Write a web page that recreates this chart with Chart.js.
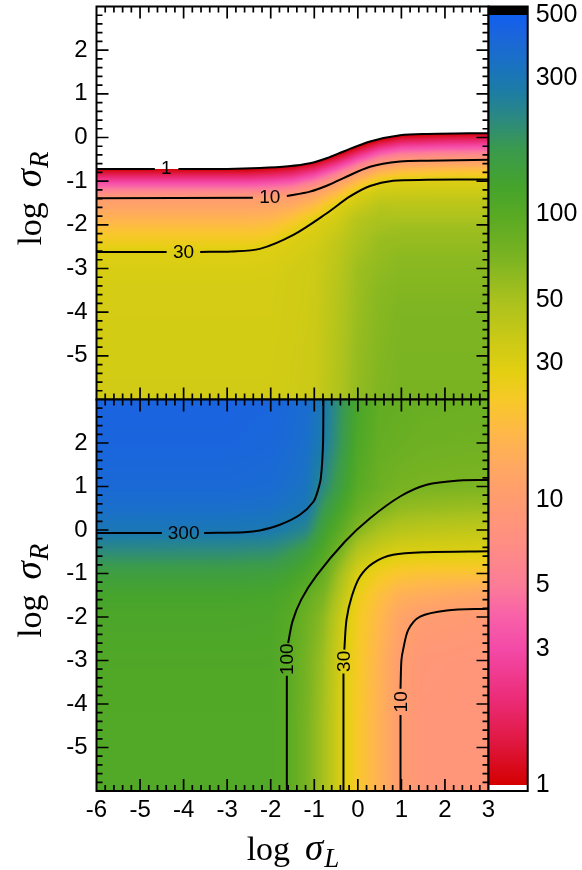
<!DOCTYPE html>
<html>
<head>
<meta charset="utf-8">
<script src="https://cdn.jsdelivr.net/npm/chart.js@4.4.1/dist/chart.umd.min.js"></script>
<style>
  html, body { margin: 0; padding: 0; background: #fff; }
  #wrap { position: relative; width: 582px; height: 870px; }
  #wrap canvas { position: absolute; left: 0; top: 0; }
</style>
</head>
<body>
<div id="wrap">
  <canvas id="top" width="582" height="870"></canvas>
  <canvas id="bottom" width="582" height="870"></canvas>
  <canvas id="bar" width="582" height="870"></canvas>
</div>
<script>
const FONT = '"Liberation Sans", Arial, Helvetica, sans-serif';
const SERIF = '"Liberation Serif", "Times New Roman", Times, serif';

// colour scale (value -> colour), ticks of the colour bar
const CMAP_VALUES = [1, 1.4, 2, 3, 4, 5, 7, 10, 13, 17, 22, 28, 36, 50, 70, 100, 125, 170, 215, 275, 350, 440, 500];
const CMAP_COLORS = ["#d40000", "#e01840", "#ec2c78", "#f44aa8", "#f964a8", "#fc7c98", "#ff8e84", "#ff9c70",
    "#ffa862", "#ffb84a", "#f8c82a", "#e4d012", "#ccca16", "#aac21e", "#7cb422", "#58aa24", "#46a42c",
    "#3a9a4e", "#2c8a80", "#1c7ca8", "#1a70c8", "#1a64e0", "#1060f0"];
const BAR_TICKS = [1, 3, 5, 10, 30, 50, 100, 300, 500];

// upper panel: values read down each column (log sigma_L); rows are log sigma_R
const TOP_COLS = [-6, -2.5, -2, -1.5, -1, -0.5, 0, 0.5, 1, 2, 3];
const TOP_ROWS = [
    [3, -0.42, -0.72, -1.05, -1.39, -2.0, -2.62, -3.4, -6],
    [3, -0.42, -0.72, -1.05, -1.39, -2.0, -2.61, -3.4, -6],
    [3, -0.39, -0.69, -1.03, -1.37, -1.95, -2.52, -3.3, -6],
    [3, -0.35, -0.65, -0.99, -1.33, -1.77, -2.24, -3.0, -6],
    [3, -0.26, -0.56, -0.88, -1.2, -1.56, -1.92, -2.7, -6],
    [3, -0.1, -0.4, -0.7, -1.01, -1.3, -1.58, -2.4, -3.5, -6],
    [3, 0.1, -0.2, -0.5, -0.8, -1.03, -1.27, -1.9, -3.0, -6],
    [3, 0.26, -0.04, -0.33, -0.63, -0.84, -1.05, -1.6, -2.3, -3.5, -6],
    [3, 0.35, 0.05, -0.25, -0.55, -0.77, -0.99, -1.5, -2.1, -2.8, -4, -6],
    [3, 0.39, 0.09, -0.22, -0.52, -0.74, -0.97, -1.5, -2.1, -2.8, -4, -6],
    [3, 0.4, 0.1, -0.21, -0.51, -0.73, -0.96, -1.5, -2.1, -2.8, -4, -6],
];
const TOP_VALS = [
    [0.3, 0.3, 1, 3.2, 10, 18, 30, 33, 34],
    [0.3, 0.3, 1, 3.2, 10, 18, 30, 33, 34],
    [0.3, 0.3, 1, 3.2, 10, 18, 30, 33, 34],
    [0.3, 0.3, 1, 3.2, 10, 18, 30, 34, 35],
    [0.3, 0.3, 1, 3.2, 10, 18, 30, 35, 37],
    [0.3, 0.3, 1, 3.2, 10, 18, 30, 40, 44, 46],
    [0.3, 0.3, 1, 3.2, 10, 18, 30, 45, 55, 60],
    [0.3, 0.3, 1, 3.2, 10, 18, 30, 45, 56, 64, 68],
    [0.3, 0.3, 1, 3.2, 10, 18, 30, 42, 55, 63, 69, 72],
    [0.3, 0.3, 1, 3.2, 10, 18, 30, 42, 55, 63, 69, 72],
    [0.3, 0.3, 1, 3.2, 10, 18, 30, 42, 55, 63, 69, 72],
];

// lower panel: regular grid
const BOT_COLS = [-6, -3, -2, -1.63, -1.2, -0.8, -0.33, 0, 0.5, 0.98, 1.5, 3];
const BOT_ROWS = [3, 2, 1, 0.5, 0, -0.5, -1, -1.5, -2, -3, -4.5, -6];
const BOT_VALS = [
    [440, 430, 400, 360, 305, 210, 150, 125, 116, 110, 108, 108],
    [440, 430, 400, 358, 302, 208, 150, 125, 116, 110, 108, 108],
    [430, 415, 385, 345, 292, 200, 145, 122, 114, 110, 108, 108],
    [410, 395, 360, 325, 265, 180, 135, 112, 104, 100, 100, 100],
    [380, 360, 330, 305, 230, 150, 115, 92, 82, 76, 74, 74],
    [300, 280, 220, 175, 140, 110, 88, 72, 62, 55, 52, 52],
    [175, 165, 140, 115, 90, 66, 48, 40, 34, 30, 30, 30],
    [120, 112, 100, 85, 65, 45, 31.5, 26, 24, 23, 22, 22],
    [92, 88, 82, 70, 50, 35, 24, 19, 17, 15.5, 15, 15],
    [88, 84, 74, 60, 44, 31, 21, 15, 12, 10.2, 10, 10],
    [85, 80, 72, 58, 42, 31, 20, 14, 9.9, 8.8, 8.6, 8.6],
    [82, 78, 70, 55, 40, 30, 20, 12, 9.2, 8.5, 8.5, 8.5],
];

// contour lines, split where the level label sits
const TOP_CONTOURS = [
    [[-6, -0.72], [-4.66, -0.72]],
    [[-4.12, -0.72], [-3, -0.72], [-2.25, -0.7], [-1.6, -0.66], [-1.1, -0.59], [-0.7, -0.47], [-0.33, -0.32],
     [0.28, -0.09], [0.97, 0.05], [1.58, 0.08], [3, 0.1]],
    [[-6, -1.39], [-2.41, -1.38]],
    [[-1.63, -1.34], [-1.1, -1.24], [-0.7, -1.1], [-0.33, -0.93], [0.28, -0.67], [0.97, -0.55], [1.59, -0.53], [3, -0.51]],
    [[-6, -2.62], [-4.39, -2.62]],
    [[-3.62, -2.62], [-2.9, -2.61], [-2.25, -2.55], [-1.48, -2.23], [-0.72, -1.74], [-0.18, -1.35], [0.28, -1.11],
     [0.81, -0.99], [1.58, -0.97], [3, -0.96]],
];
const BOT_CONTOURS = [
    [[-6, -0.07], [-4.5, -0.07]],
    [[-3.53, -0.07], [-2.6, -0.05], [-2.25, -0.01], [-1.79, 0.12], [-1.33, 0.35], [-1.02, 0.65], [-0.92, 0.9],
     [-0.85, 1.19], [-0.8, 1.96], [-0.79, 3]],
    [[-1.63, -6], [-1.63, -3.35]],
    [[-1.6, -2.6], [-1.5, -2.1], [-1.3, -1.6], [-0.95, -1.05], [-0.3, -0.27], [0.28, 0.27],
     [0.97, 0.77], [1.58, 1.04], [2.34, 1.14], [3, 1.15]],
    [[-0.33, -6], [-0.33, -3.3]],
    [[-0.31, -2.75], [-0.26, -2.06], [-0.14, -1.53], [0.05, -1.07], [0.35, -0.76], [0.81, -0.57], [1.58, -0.51], [3, -0.49]],
    [[0.98, -6], [0.98, -4.25]],
    [[0.98, -3.65], [1.0, -3.0], [1.04, -2.75], [1.16, -2.29], [1.43, -1.99], [2.04, -1.85], [3, -1.81]],
];
// [text, log sigma_L, log sigma_R, rotation]
const TOP_LABELS = [["1", -4.4, -0.7, 0], ["10", -2.02, -1.36, 0], ["30", -4.0, -2.62, 0]];
const BOT_LABELS = [["300", -4.0, -0.06, 0], ["100", -1.63, -2.97, -90], ["30", -0.33, -3.02, -90], ["10", 0.98, -3.95, -90]];

const cmapLogs = CMAP_VALUES.map(Math.log10);
const cmapRgb = CMAP_COLORS.map((h) => [parseInt(h.slice(1, 3), 16), parseInt(h.slice(3, 5), 16), parseInt(h.slice(5, 7), 16)]);

function colourFor(lv) {
    if (lv < -1e-9) return [255, 255, 255];
    if (lv > cmapLogs[cmapLogs.length - 1] + 1e-9) return [0, 0, 0];
    let k = 0;
    while (k < cmapLogs.length - 2 && lv > cmapLogs[k + 1]) k++;
    const t = Math.min(1, Math.max(0, (lv - cmapLogs[k]) / (cmapLogs[k + 1] - cmapLogs[k])));
    const a = cmapRgb[k], b = cmapRgb[k + 1];
    return [a[0] + (b[0] - a[0]) * t, a[1] + (b[1] - a[1]) * t, a[2] + (b[2] - a[2]) * t];
}

function profileAt(ys, ls, y) {
    if (y >= ys[0]) return ls[0];
    for (let k = 0; k < ys.length - 1; k++) {
        if (y >= ys[k + 1]) {
            const t = (ys[k] - y) / (ys[k] - ys[k + 1]);
            return ls[k] + (ls[k + 1] - ls[k]) * t;
        }
    }
    return ls[ls.length - 1];
}

function heatmap(cols, rows, vals) {
    const logs = vals.map((c) => c.map(Math.log10));
    return {
        id: "heatmap",
        beforeDatasetsDraw(chart) {
            const { ctx, chartArea: a, scales: { x, y } } = chart;
            const x0 = Math.floor(a.left), y0 = Math.floor(a.top);
            const w = Math.ceil(a.right) - x0, h = Math.ceil(a.bottom) - y0;
            const img = ctx.createImageData(w, h);
            for (let i = 0; i < w; i++) {
                const xv = x.getValueForPixel(x0 + i + 0.5);
                let c = 0;
                while (c < cols.length - 2 && xv > cols[c + 1]) c++;
                const t = Math.min(1, Math.max(0, (xv - cols[c]) / (cols[c + 1] - cols[c])));
                for (let j = 0; j < h; j++) {
                    const yv = y.getValueForPixel(y0 + j + 0.5);
                    const la = profileAt(rows[c], logs[c], yv);
                    const lb = profileAt(rows[c + 1], logs[c + 1], yv);
                    const rgb = colourFor(la + (lb - la) * t);
                    const p = (j * w + i) * 4;
                    img.data[p] = rgb[0];
                    img.data[p + 1] = rgb[1];
                    img.data[p + 2] = rgb[2];
                    img.data[p + 3] = 255;
                }
            }
            ctx.putImageData(img, x0, y0);
        },
    };
}

function contourLabels(list) {
    return {
        id: "contourLabels",
        afterDatasetsDraw(chart) {
            const { ctx, scales: { x, y } } = chart;
            ctx.save();
            ctx.font = `19px ${FONT}`;
            ctx.fillStyle = "#000";
            ctx.textAlign = "center";
            ctx.textBaseline = "middle";
            list.forEach(([text, xv, yv, rot]) => {
                ctx.save();
                ctx.translate(x.getPixelForValue(xv), y.getPixelForValue(yv));
                ctx.rotate((rot * Math.PI) / 180);
                ctx.fillText(text, 0, 1);
                ctx.restore();
            });
            ctx.restore();
        },
    };
}

function drawTitle(ctx, sub, cx, cy, rotate) {
    ctx.save();
    ctx.translate(cx, cy);
    if (rotate) ctx.rotate(-Math.PI / 2);
    ctx.fillStyle = "#000";
    ctx.textBaseline = "alphabetic";
    ctx.textAlign = "left";
    const f1 = `34px ${SERIF}`, f2 = `italic 37px ${SERIF}`, f3 = `italic 27px ${SERIF}`;
    ctx.font = f1; const w1 = ctx.measureText("log").width + 15;
    ctx.font = f2; const w2 = ctx.measureText("σ").width;
    ctx.font = f3; const w3 = ctx.measureText(sub).width;
    let px = -(w1 + w2 + w3) / 2;
    ctx.font = f1; ctx.fillText("log", px, 0); px += w1;
    ctx.font = f2; ctx.fillText("σ", px, 0); px += w2 + 1;
    ctx.font = f3; ctx.fillText(sub, px, 7);
    ctx.restore();
}

function frame(titles) {
    return {
        id: "frame",
        afterDatasetsDraw(chart) {
            const { ctx, chartArea: a, scales: { x, y } } = chart;
            ctx.save();
            ctx.strokeStyle = "#000";
            ctx.lineWidth = 1.7;
            ctx.beginPath();
            for (let k = 1; k < 45; k++) {
                const v = -6 + k * 0.2;
                const len = k % 5 === 0 ? 12 : 6;
                const px = x.getPixelForValue(v), py = y.getPixelForValue(v);
                ctx.moveTo(px, a.top); ctx.lineTo(px, a.top + len);
                ctx.moveTo(px, a.bottom); ctx.lineTo(px, a.bottom - len);
                ctx.moveTo(a.left, py); ctx.lineTo(a.left + len, py);
                ctx.moveTo(a.right, py); ctx.lineTo(a.right - len, py);
            }
            ctx.stroke();
            ctx.lineWidth = 2;
            ctx.strokeRect(a.left, a.top, a.right - a.left, a.bottom - a.top);
            ctx.restore();
            titles.forEach((t) => {
                if (t.axis === "y") drawTitle(ctx, t.sub, 41, (a.top + a.bottom) / 2 - 4, true);
                else drawTitle(ctx, t.sub, (a.left + a.right) / 2, a.bottom + 69, false);
            });
        },
    };
}

function panel(id, cfg) {
    const tickFont = { family: FONT, size: 24 };
    return new Chart(document.getElementById(id), {
        type: "scatter",
        data: {
            datasets: cfg.contours.map((seg) => ({
                data: seg.map((p) => ({ x: p[0], y: p[1] })),
                showLine: true,
                borderColor: "#000",
                borderWidth: 2,
                pointRadius: 0,
                tension: 0.3,
                fill: false,
            })),
        },
        options: {
            responsive: false,
            animation: false,
            events: [],
            layout: { padding: cfg.padding },
            plugins: { legend: { display: false }, tooltip: { enabled: false } },
            scales: {
                x: {
                    type: "linear",
                    min: -6,
                    max: 3,
                    display: cfg.showX,
                    grid: { display: false, drawTicks: false },
                    border: { display: false },
                    ticks: { stepSize: 1, autoSkip: false, maxRotation: 0, color: "#000", font: tickFont, padding: 5 },
                    afterFit(s) { s.height = cfg.showX ? 79 : 0; s.paddingLeft = 0; s.paddingRight = 0; },
                },
                y: {
                    type: "linear",
                    min: -6,
                    max: 3,
                    grid: { display: false, drawTicks: false },
                    border: { display: false },
                    ticks: {
                        stepSize: 1,
                        autoSkip: false,
                        color: "#000",
                        font: tickFont,
                        padding: 9,
                        callback: (v) => (v >= -5 && v <= 2 ? String(v) : null),
                    },
                    afterFit(s) { s.width = 96.5; s.paddingTop = 0; s.paddingBottom = 0; },
                },
            },
        },
        plugins: [heatmap(cfg.cols, cfg.rows, cfg.vals), contourLabels(cfg.labels), frame(cfg.titles)],
    });
}

panel("top", {
    cols: TOP_COLS, rows: TOP_ROWS, vals: TOP_VALS,
    contours: TOP_CONTOURS, labels: TOP_LABELS,
    showX: false,
    padding: { left: 0, right: 93.5, top: 6.5, bottom: 470.5 },
    titles: [{ axis: "y", sub: "R" }],
});

panel("bottom", {
    cols: BOT_COLS, rows: BOT_COLS.map(() => BOT_ROWS), vals: BOT_VALS,
    contours: BOT_CONTOURS, labels: BOT_LABELS,
    showX: true,
    padding: { left: 0, right: 93.5, top: 399.5, bottom: 0 },
    titles: [{ axis: "y", sub: "R" }, { axis: "x", sub: "L" }],
});

// colour bar
const colourBar = {
    id: "colourBar",
    beforeDatasetsDraw(chart) {
        const { ctx, chartArea: a, scales: { y } } = chart;
        for (let py = Math.floor(a.top); py < Math.ceil(a.bottom); py++) {
            const v = y.getValueForPixel(py + 0.5);
            const rgb = colourFor(Math.log10(v));
            ctx.fillStyle = `rgb(${rgb[0] | 0},${rgb[1] | 0},${rgb[2] | 0})`;
            ctx.fillRect(a.left, py, a.right - a.left, 1);
        }
        ctx.save();
        ctx.strokeStyle = "#000";
        ctx.lineWidth = 2;
        ctx.strokeRect(a.left, a.top, a.right - a.left, a.bottom - a.top);
        ctx.restore();
    },
};

new Chart(document.getElementById("bar"), {
    type: "scatter",
    data: { datasets: [] },
    options: {
        responsive: false,
        animation: false,
        events: [],
        layout: { padding: { left: 488.5, right: 0, top: 6.5, bottom: 79 } },
        plugins: { legend: { display: false }, tooltip: { enabled: false } },
        scales: {
            x: { type: "linear", display: false, min: 0, max: 1, afterFit(s) { s.height = 0; } },
            y: {
                type: "logarithmic",
                position: "right",
                min: 0.953,
                max: 535,
                grid: { display: false, drawTicks: false },
                border: { display: false },
                afterBuildTicks(s) { s.ticks = BAR_TICKS.map((v) => ({ value: v })); },
                ticks: { color: "#000", font: { family: FONT, size: 25 }, padding: 8, callback: (v) => String(v) },
                afterFit(s) { s.width = 54.3; s.paddingTop = 0; s.paddingBottom = 0; },
            },
        },
    },
    plugins: [colourBar],
});
</script>
</body>
</html>
